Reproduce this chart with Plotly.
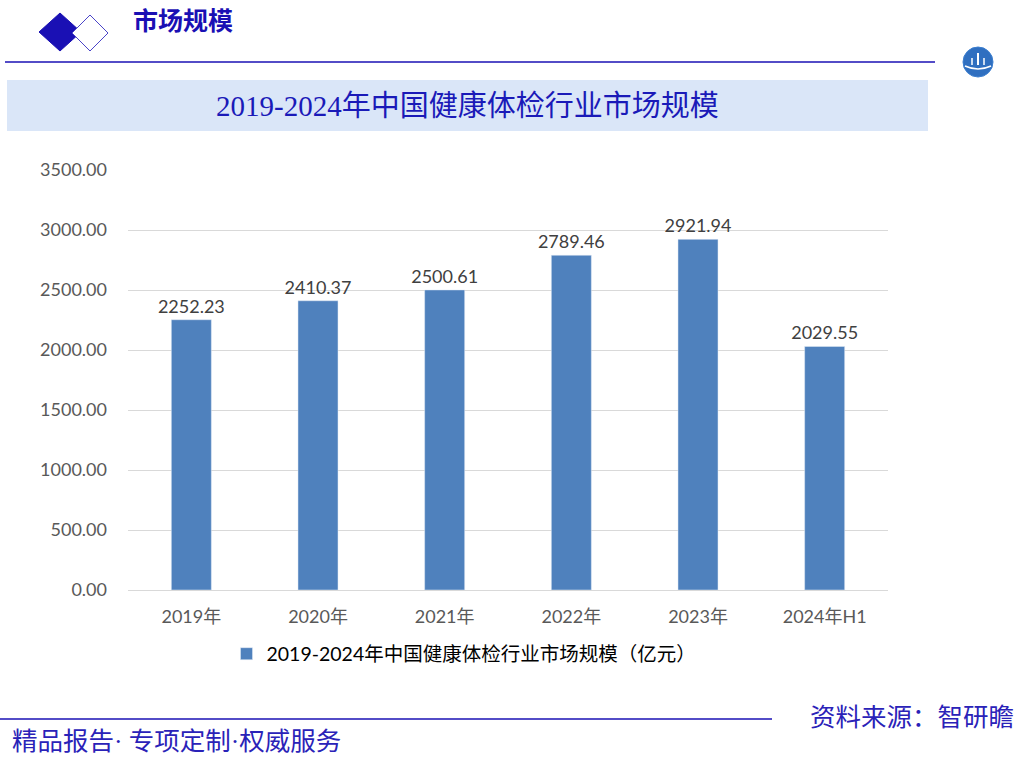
import plotly.graph_objects as go

categories = ["2019年", "2020年", "2021年", "2022年", "2023年", "2024年H1"]
values = [2252.23, 2410.37, 2500.61, 2789.46, 2921.94, 2029.55]
series_name = "2019-2024年中国健康体检行业市场规模（亿元）"
chart_title = "2019-2024年中国健康体检行业市场规模"
header_text = "市场规模"
footer_left = "精品报告· 专项定制·权威服务"
footer_right = "资料来源：智研瞻"

W, H = 1020, 758
L, R, T, B = 128, 888, 170, 590


def px(x):
    return (x - L) / (R - L)


def py(y):
    return (B - y) / (B - T)


fig = go.Figure()
fig.add_trace(go.Bar(
    x=categories, y=values, name=series_name,
    marker_color="#4f81bd",
    texttemplate="%{y:.2f}", textposition="outside", constraintext="none",
    textfont=dict(size=18, color="#404040", family="Lato, Noto Sans CJK SC"),
    cliponaxis=False,
))

navy = "#1a10b4"
shapes = [
    dict(type="rect", xref="paper", yref="paper", x0=px(7), x1=px(928), y0=py(131), y1=py(80),
         fillcolor="#dae6f8", line=dict(width=0), layer="below"),
    dict(type="line", xref="paper", yref="paper", x0=px(5), x1=px(935), y0=py(62), y1=py(62),
         line=dict(color=navy, width=1.5)),
    dict(type="line", xref="paper", yref="paper", x0=px(0), x1=px(772), y0=py(719), y1=py(719),
         line=dict(color=navy, width=1.5)),
    dict(type="path", xref="paper", yref="paper",
         path="M {} {} L {} {} L {} {} L {} {} Z".format(px(39), py(32), px(60), py(13), px(81), py(32), px(60), py(51)),
         fillcolor=navy, line=dict(color=navy, width=1)),
    dict(type="path", xref="paper", yref="paper",
         path="M {} {} L {} {} L {} {} L {} {} Z".format(px(72), py(33), px(90), py(15), px(108), py(33), px(90), py(51)),
         fillcolor="white", line=dict(color="#4a44c8", width=1)),
    dict(type="circle", xref="paper", yref="paper", x0=px(963), x1=px(993), y0=py(77), y1=py(47),
         fillcolor="#2f6fc0", line=dict(color="#3c7fd0", width=1)),
    dict(type="path", xref="paper", yref="paper",
         path="M {} {} Q {} {} {} {}".format(px(965), py(66), px(978), py(72), px(991), py(66)),
         line=dict(color="white", width=1.5)),
    dict(type="line", xref="paper", yref="paper", x0=px(978), x1=px(978), y0=py(65), y1=py(53),
         line=dict(color="white", width=2)),
    dict(type="line", xref="paper", yref="paper", x0=px(972), x1=px(972), y0=py(65), y1=py(58),
         line=dict(color="white", width=1.5)),
    dict(type="line", xref="paper", yref="paper", x0=px(984), x1=px(984), y0=py(65), y1=py(58),
         line=dict(color="white", width=1.5)),
]

serif = "Liberation Serif, Noto Sans CJK SC"
annotations = [
    dict(text="<b>" + header_text + "</b>", xref="paper", yref="paper", x=px(131), y=py(22),
         xanchor="left", yanchor="middle", showarrow=False,
         font=dict(size=25, color=navy, family=serif)),
    dict(text=chart_title, xref="paper", yref="paper", x=px(467), y=py(106),
         xanchor="center", yanchor="middle", showarrow=False,
         font=dict(size=29, color="#1a1ab8", family=serif)),
    dict(text=footer_left, xref="paper", yref="paper", x=px(10), y=py(741),
         xanchor="left", yanchor="middle", showarrow=False,
         font=dict(size=25.5, color="#2a22b8", family=serif)),
    dict(text=footer_right, xref="paper", yref="paper", x=px(1016), y=py(717),
         xanchor="right", yanchor="middle", showarrow=False,
         font=dict(size=25.5, color="#2a22b8", family=serif)),
]

fig.update_layout(
    width=W, height=H,
    margin=dict(l=L, r=W - R, t=T, b=H - B, pad=0),
    paper_bgcolor="white", plot_bgcolor="white",
    bargap=0.684,
    showlegend=True,
    legend=dict(orientation="h", x=px(464), xanchor="center", y=py(654), yanchor="middle",
                font=dict(size=19.5, color="#000000", family="Lato, Noto Sans CJK SC"),
                itemwidth=30),
    shapes=shapes,
    annotations=annotations,
    font=dict(family="Lato, Noto Sans CJK SC"),
)
fig.update_yaxes(range=[0, 3500], dtick=500, tickformat=".2f", showgrid=True,
                 gridcolor="#d9d9d9", gridwidth=1, zeroline=False, showline=False,
                 tickfont=dict(size=18, color="#595959"), ticks="", ticklabelstandoff=20)
fig.update_xaxes(showline=True, linecolor="#d9d9d9", linewidth=1, ticks="", ticklabelstandoff=10,
                 tickfont=dict(size=18, color="#595959", family="Lato, Noto Sans CJK SC"))

fig.write_html("out.html")
